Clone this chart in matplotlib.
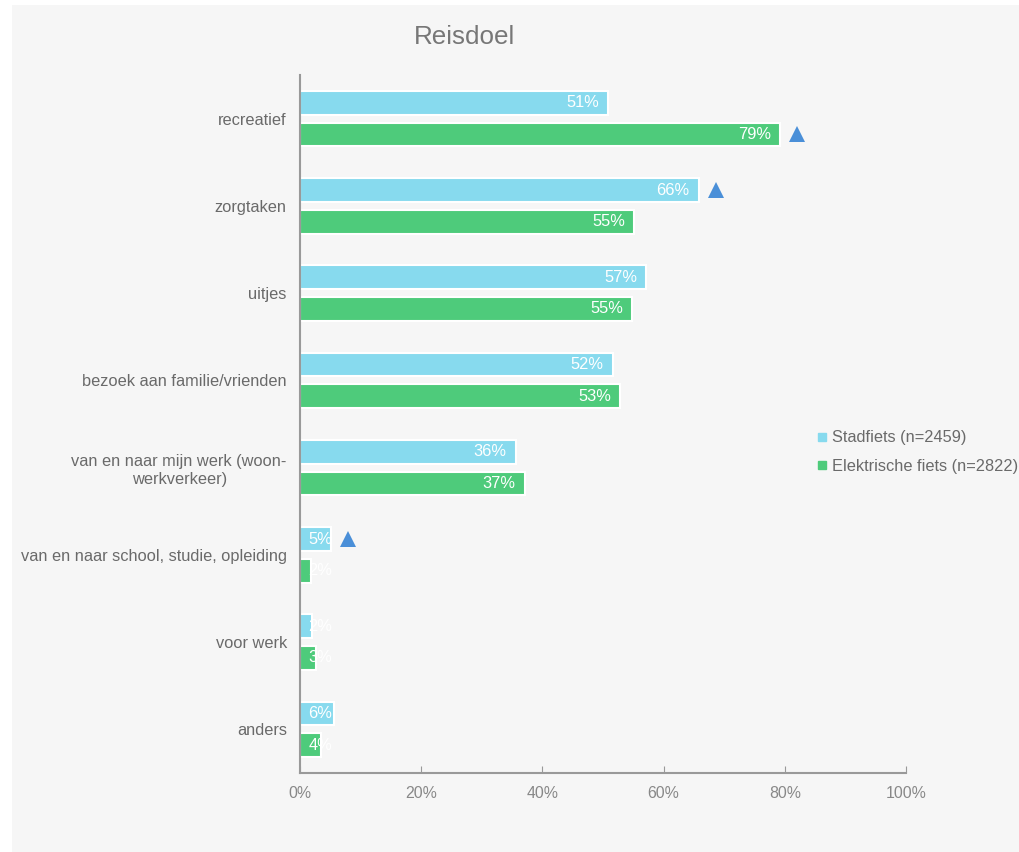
import matplotlib
matplotlib.use("Agg")
import matplotlib.pyplot as plt
from matplotlib.lines import Line2D
from matplotlib.patches import Rectangle
import numpy as np

plt.rcParams['font.family'] = ['Liberation Sans', 'DejaVu Sans']

categories = ["recreatief", "zorgtaken", "uitjes", "bezoek aan familie/vrienden",
              "van en naar mijn werk (woon-\nwerkverkeer)",
              "van en naar school, studie, opleiding", "voor werk", "anders"]
stadfiets = [50.8, 65.8, 57.1, 51.6, 35.6, 5.1, 2.0, 5.6]
elektrisch = [79.2, 55.1, 54.8, 52.8, 37.1, 1.8, 2.6, 3.5]
stad_flag = [False, True, False, False, False, True, False, False]
elek_flag = [True, False, False, False, False, False, False, False]
series_names = ["Stadfiets (n=2459)", "Elektrische fiets (n=2822)"]
xticks = [0, 20, 40, 60, 80, 100]
title = "Reisdoel"

c_stad = "#87daee"
c_elek = "#4ecb7b"
c_tri = "#4a8fd8"
txt = "#6a6a6a"

fig = plt.figure(figsize=(10.2, 8.52), dpi=100, facecolor="white")
fig.patches.append(Rectangle((12/1020, 0), 1 - 12/1020, 1 - 5/852,
                             transform=fig.transFigure, facecolor="#f6f6f6",
                             edgecolor="none", zorder=-10))

ax = fig.add_axes([300/1020, 79/852, 606/1020, 698/852])
ax.set_facecolor("none")

n = len(categories)
y = np.arange(n)
off = 16/88
h = 24/88
ax.barh(y - off, stadfiets, height=h, color=c_stad, edgecolor="white", linewidth=1.5)
ax.barh(y + off, elektrisch, height=h, color=c_elek, edgecolor="white", linewidth=1.5)

for i in range(n):
    for vals, flags, o in ((stadfiets, stad_flag, -off), (elektrisch, elek_flag, off)):
        v = vals[i]
        ax.text(max(v - 1.5, 5.3), y[i] + o, f"{round(v)}%",
                ha="right", va="center", color="white", fontsize=11.8)
        if flags[i]:
            ax.plot(v + 2.8, y[i] + o, marker="^", color=c_tri, markersize=11.5,
                    markeredgewidth=0, clip_on=False)

ax.set_xlim(0, 100)
ax.set_ylim(n - 0.5, -0.5)
ax.set_xticks(xticks)
ax.set_xticklabels([f"{t}%" for t in xticks], color="#888888", fontsize=11.4)
ax.set_yticks(y)
ax.set_yticklabels(categories, color=txt, fontsize=11.8, multialignment="center")
ax.tick_params(axis="x", direction="in", length=5, color="#999999", pad=9)
ax.tick_params(axis="y", length=0, pad=9.5)
for s in ("top", "right"):
    ax.spines[s].set_visible(False)
for s in ("left", "bottom"):
    ax.spines[s].set_color("#999999")
    ax.spines[s].set_linewidth(1.5)

fig.text(465/1020, 1 - 37/852, title, ha="center", va="center", fontsize=18.7, color="#777777")

handles = [Line2D([], [], marker="s", linestyle="none", color=c_stad, markersize=6),
           Line2D([], [], marker="s", linestyle="none", color=c_elek, markersize=6)]
fig.legend(handles, series_names, loc="center left", bbox_to_anchor=(811/1020, 1 - 452/852),
           frameon=False, fontsize=11.8, labelcolor=txt, handlelength=0.6,
           handletextpad=0.3, labelspacing=0.8, borderaxespad=0)

fig.savefig("out.png", dpi=100, facecolor="white")
